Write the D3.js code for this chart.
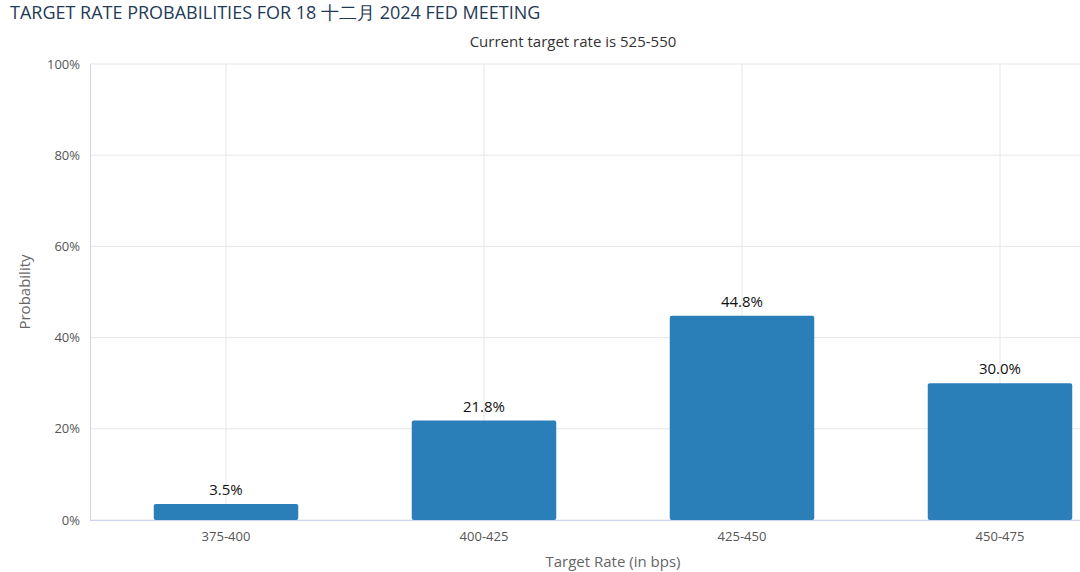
<!DOCTYPE html>
<html>
<head>
<meta charset="utf-8">
<script src="https://cdn.jsdelivr.net/npm/d3@7"></script>
<style>
  body { margin: 0; background: #fff; font-family: "Open Sans", "Noto Sans", sans-serif; }
</style>
</head>
<body>
<svg id="chart" width="1080" height="572"></svg>
<script>
const categories = ["375-400", "400-425", "425-450", "450-475"];
const probabilities = [3.5, 21.8, 44.8, 30.0];
const yTicks = [0, 20, 40, 60, 80, 100];

const svg = d3.select("#chart");
const plot = { left: 90, top: 64, bottom: 520 };

const x = d3.scaleBand().domain(categories).range([97, 1129]).paddingInner(0.44).paddingOuter(0.22);
const y = d3.scaleLinear().domain([0, 100]).range([plot.bottom, plot.top]);

// title
svg.append("text")
    .attr("x", 10).attr("y", 19)
    .style("font-size", "18px")
    .style("fill", "#1f3a57")
    .text("TARGET RATE PROBABILITIES FOR 18 十二月 2024 FED MEETING");

svg.append("text")
    .attr("x", 573).attr("y", 47)
    .attr("text-anchor", "middle")
    .style("font-size", "15px")
    .style("fill", "#333")
    .text("Current target rate is 525-550");

// horizontal grid
svg.append("g")
    .selectAll("line")
    .data(yTicks)
    .enter().append("line")
    .attr("x1", plot.left).attr("x2", 1080)
    .attr("y1", d => y(d)).attr("y2", d => y(d))
    .style("stroke", "#e6e6e6");

// vertical grid at category centers
svg.append("g")
    .selectAll("line")
    .data(categories)
    .enter().append("line")
    .attr("x1", d => x(d) + x.bandwidth() / 2).attr("x2", d => x(d) + x.bandwidth() / 2)
    .attr("y1", plot.top).attr("y2", plot.bottom)
    .style("stroke", "#e6e6e6");

// y axis
const yAxis = svg.append("g")
    .attr("transform", `translate(${plot.left},0)`)
    .call(d3.axisLeft(y).tickValues(yTicks).tickFormat(d => d + "%").tickSize(0).tickPadding(10));
yAxis.select(".domain").style("stroke", "#ccd6eb");
yAxis.selectAll("text").style("font-size", "13px").style("fill", "#555").style("font-family", "Open Sans, sans-serif");

// bars
svg.append("g")
    .selectAll("rect")
    .data(probabilities)
    .enter().append("rect")
    .attr("x", (d, i) => x(categories[i]))
    .attr("y", d => y(d))
    .attr("width", x.bandwidth())
    .attr("height", d => plot.bottom - y(d))
    .attr("rx", 2)
    .style("fill", "#2a7fb8");

// value labels
svg.append("g")
    .selectAll("text")
    .data(probabilities)
    .enter().append("text")
    .attr("x", (d, i) => x(categories[i]) + x.bandwidth() / 2)
    .attr("y", d => y(d) - 9)
    .attr("text-anchor", "middle")
    .style("font-size", "15px")
    .style("fill", "#111")
    .text(d => d.toFixed(1) + "%");

// x axis
const xAxis = svg.append("g")
    .attr("transform", `translate(0,${plot.bottom})`)
    .call(d3.axisBottom(x).tickSize(0).tickPadding(12));
xAxis.select(".domain").remove();
xAxis.selectAll("text").style("font-size", "13px").style("fill", "#555").style("font-family", "Open Sans, sans-serif");
svg.append("line")
    .attr("x1", plot.left).attr("x2", 1080)
    .attr("y1", plot.bottom + 0.5).attr("y2", plot.bottom + 0.5)
    .style("stroke", "#ccd6eb");

// axis titles
svg.append("text")
    .attr("x", 613).attr("y", 567)
    .attr("text-anchor", "middle")
    .style("font-size", "15px")
    .style("fill", "#666")
    .text("Target Rate (in bps)");

svg.append("text")
    .attr("transform", "translate(30,292) rotate(-90)")
    .attr("text-anchor", "middle")
    .style("font-size", "15px")
    .style("fill", "#666")
    .text("Probability");
</script>
</body>
</html>
